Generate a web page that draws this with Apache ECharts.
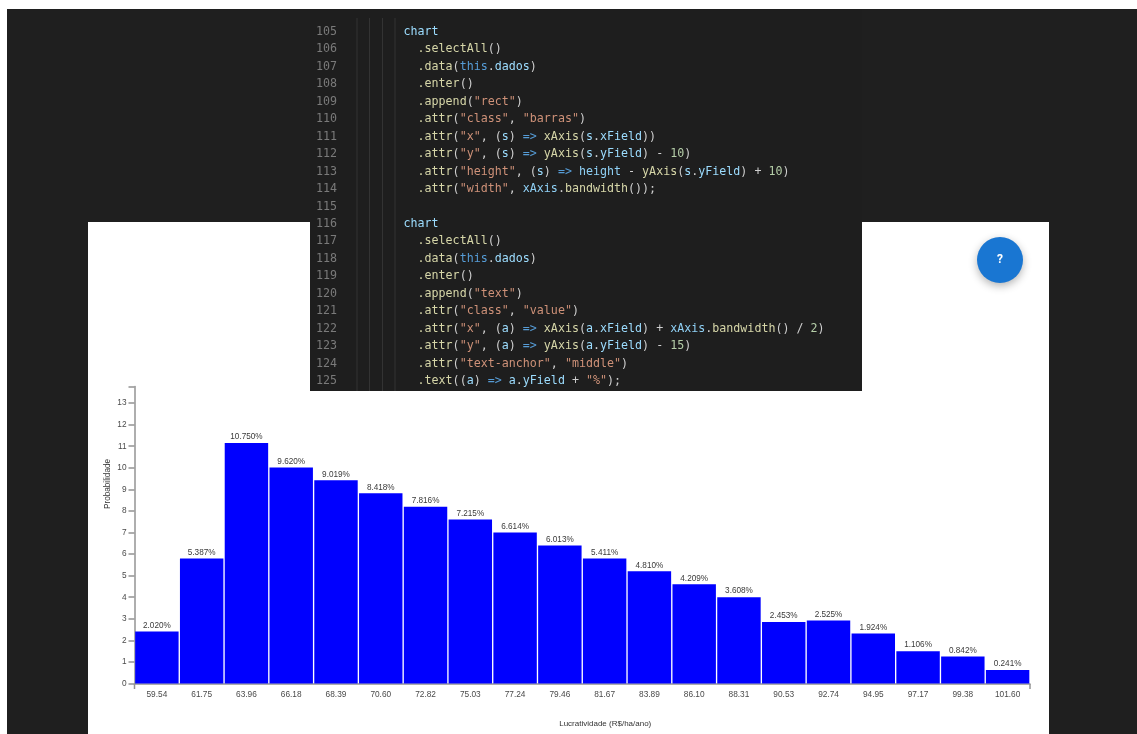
<!DOCTYPE html>
<html>
<head>
<meta charset="utf-8">
<title>Lucratividade</title>
<style>
    html, body { margin: 0; padding: 0; background: #fff; }
    #box { width: 1137px; height: 734px; }
</style>
<script src="https://cdn.jsdelivr.net/npm/echarts@6/dist/echarts.min.js"></script>
</head>
<body>
<div id="box"></div>
<script>
// classes do histograma
var categorias = ['59.54', '61.75', '63.96', '66.18', '68.39', '70.60', '72.82', '75.03', '77.24', '79.46',
    '81.67', '83.89', '86.10', '88.31', '90.53', '92.74', '94.95', '97.17', '99.38', '101.60'];
// altura desenhada das barras
var alturas = [2.41, 5.80, 11.15, 10.02, 9.42, 8.82, 8.20, 7.60, 7.00, 6.40,
    5.80, 5.20, 4.60, 4.00, 2.85, 2.92, 2.32, 1.50, 1.25, 0.63];
// texto em cima de cada barra
var rotulos = ['2.020%', '5.387%', '10.750%', '9.620%', '9.019%', '8.418%', '7.816%', '7.215%', '6.614%', '6.013%',
    '5.411%', '4.810%', '4.209%', '3.608%', '2.453%', '2.525%', '1.924%', '1.106%', '0.842%', '0.241%'];
var ticksY = [0, 1, 2, 3, 4, 5, 6, 7, 8, 9, 10, 11, 12, 13];
var topoY = 13.77;

// codigo da captura: n=normal f=funcao k=palavra v=variavel s=string d=numero c=constante
var numeros = [105, 106, 107, 108, 109, 110, 111, 112, 113, 114, 115, 116, 117, 118, 119, 120, 121, 122, 123, 124, 125];
var codigo = [
    '{v|chart}',
    '  {f|.selectAll}{n|()}',
    '  {f|.data}{n|(}{k|this}{n|.}{v|dados}{n|)}',
    '  {f|.enter}{n|()}',
    '  {f|.append}{n|(}{s|"rect"}{n|)}',
    '  {f|.attr}{n|(}{s|"class"}{n|, }{s|"barras"}{n|)}',
    '  {f|.attr}{n|(}{s|"x"}{n|, (}{v|s}{n|) }{k|=>}{n| }{f|xAxis}{n|(}{v|s}{n|.}{v|xField}{n|))}',
    '  {f|.attr}{n|(}{s|"y"}{n|, (}{v|s}{n|) }{k|=>}{n| }{f|yAxis}{n|(}{v|s}{n|.}{v|yField}{n|) - }{d|10}{n|)}',
    '  {f|.attr}{n|(}{s|"height"}{n|, (}{v|s}{n|) }{k|=>}{n| }{c|height}{n| - }{f|yAxis}{n|(}{v|s}{n|.}{v|yField}{n|) + }{d|10}{n|)}',
    '  {f|.attr}{n|(}{s|"width"}{n|, }{c|xAxis}{n|.}{f|bandwidth}{n|());}',
    '',
    '{v|chart}',
    '  {f|.selectAll}{n|()}',
    '  {f|.data}{n|(}{k|this}{n|.}{v|dados}{n|)}',
    '  {f|.enter}{n|()}',
    '  {f|.append}{n|(}{s|"text"}{n|)}',
    '  {f|.attr}{n|(}{s|"class"}{n|, }{s|"value"}{n|)}',
    '  {f|.attr}{n|(}{s|"x"}{n|, (}{v|a}{n|) }{k|=>}{n| }{f|xAxis}{n|(}{v|a}{n|.}{v|xField}{n|) + }{c|xAxis}{n|.}{f|bandwidth}{n|() / }{d|2}{n|)}',
    '  {f|.attr}{n|(}{s|"y"}{n|, (}{v|a}{n|) }{k|=>}{n| }{f|yAxis}{n|(}{v|a}{n|.}{v|yField}{n|) - }{d|15}{n|)}',
    '  {f|.attr}{n|(}{s|"text-anchor"}{n|, }{s|"middle"}{n|)}',
    '  {f|.text}{n|((}{v|a}{n|) }{k|=>}{n| }{v|a}{n|.}{v|yField}{n| + }{s|"%"}{n|);}'
];

var fonteCodigo = '"DejaVu Sans Mono", monospace';
var estilosCodigo = {};
var coresCodigo = { n: '#cfcfcf', f: '#d6d6a8', k: '#569cd6', v: '#9cdcfe', s: '#ce9178', d: '#b5cea8', c: '#8fd0f5' };
Object.keys(coresCodigo).forEach(function (k) {
    estilosCodigo[k] = { fill: coresCodigo[k], font: '11.66px ' + fonteCodigo };
});

var corEixo = '#939393';
var graficos = [
    { type: 'rect', z: -20, silent: true, shape: { x: 7, y: 9, width: 1130, height: 725 }, style: { fill: '#1f1f1f' } },
    { type: 'rect', z: -10, silent: true, shape: { x: 88, y: 222, width: 961, height: 512 }, style: { fill: '#fff' } },
    { type: 'rect', z: 50, silent: true, shape: { x: 310, y: 9, width: 552, height: 382 }, style: { fill: '#1e1e1e' } },
    // botao de ajuda
    { type: 'circle', z: 50, silent: true, shape: { cx: 1000, cy: 260, r: 23 },
        style: { fill: '#1976d2', shadowBlur: 8, shadowOffsetY: 3, shadowColor: 'rgba(0,0,0,0.3)' } },
    { type: 'text', z: 51, silent: true, x: 1000, y: 260,
        style: { text: '?', fill: '#fff', font: 'bold 12px Roboto', align: 'center', verticalAlign: 'middle' } },
    // marcas das pontas do eixo x
    { type: 'line', z: 5, silent: true, shape: { x1: 134.5, y1: 684, x2: 134.5, y2: 689 }, style: { stroke: corEixo, lineWidth: 1.5 } },
    { type: 'line', z: 5, silent: true, shape: { x1: 1030, y1: 684, x2: 1030, y2: 689 }, style: { stroke: corEixo, lineWidth: 1.5 } }
];
// guias de indentacao
[357, 369.5, 382.5, 395].forEach(function (x) {
    graficos.push({ type: 'line', z: 51, silent: true, shape: { x1: x, y1: 18, x2: x, y2: 391 }, style: { stroke: '#333333', lineWidth: 1 } });
});
codigo.forEach(function (linha, i) {
    var y = 32 + i * 17.45;
    graficos.push({ type: 'text', z: 52, silent: true, x: 316, y: y,
        style: { text: String(numeros[i]), fill: '#7a7a7a', font: '11.66px ' + fonteCodigo, verticalAlign: 'middle' } });
    if (linha) {
        graficos.push({ type: 'text', z: 52, silent: true, x: 403.5, y: y,
            style: { text: linha, rich: estilosCodigo, verticalAlign: 'middle', font: '11.66px ' + fonteCodigo } });
    }
});

var myChart = echarts.init(document.getElementById('box'), null, { renderer: 'canvas' });
myChart.setOption({
    animation: false,
    backgroundColor: '#fff',
    textStyle: { fontFamily: '"Liberation Sans", Arial, sans-serif' },
    grid: { left: 134.5, right: 107, top: 386.5, bottom: 50.5, containLabel: false },
    xAxis: {
        type: 'category',
        data: categorias,
        name: 'Lucratividade (R$/ha/ano)',
        nameLocation: 'middle',
        nameGap: 36,
        nameTextStyle: { fontSize: 8, color: '#333', padding: [0, 0, 0, 46] },
        axisLine: { lineStyle: { color: corEixo, width: 1.5 } },
        axisTick: { alignWithLabel: true, length: 5, lineStyle: { color: corEixo, width: 1.5 } },
        axisLabel: { fontSize: 8.3, color: '#4a4a4a', margin: 7, interval: 0 },
        splitLine: { show: false }
    },
    yAxis: {
        type: 'value',
        min: 0,
        max: topoY,
        name: 'Probabilidade',
        nameLocation: 'middle',
        nameGap: 23,
        nameRotate: 90,
        nameMoveOverlap: false,
        nameTextStyle: { fontSize: 8.2, color: '#333', padding: [0, 0, 0, 102] },
        axisLine: { show: true, lineStyle: { color: corEixo, width: 1.5 } },
        axisTick: { show: true, length: 6, customValues: ticksY.concat([topoY]), lineStyle: { color: corEixo, width: 1.5 } },
        axisLabel: { fontSize: 8.3, color: '#4a4a4a', margin: 8, customValues: ticksY },
        splitLine: { show: false }
    },
    series: [{
        type: 'bar',
        data: alturas,
        barCategoryGap: '3%',
        itemStyle: { color: '#0000ff' },
        label: {
            show: true,
            position: 'top',
            distance: 2,
            fontSize: 8.2,
            color: '#3a3a3a',
            formatter: function (p) { return rotulos[p.dataIndex]; }
        }
    }],
    graphic: { elements: graficos }
});
window.addEventListener('resize', function () {
    myChart.resize();
});
</script>
</body>
</html>
